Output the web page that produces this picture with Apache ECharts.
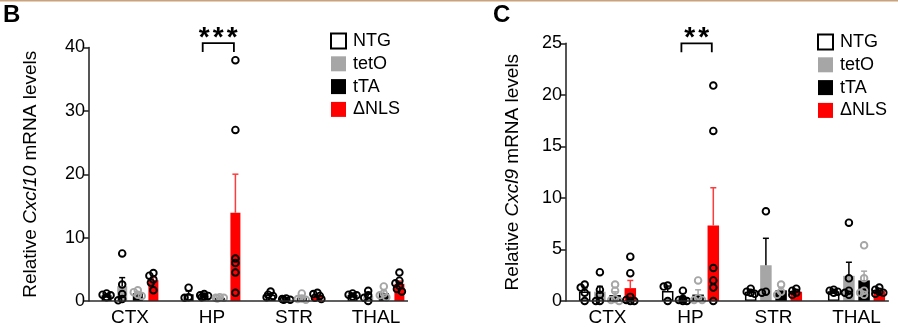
<!DOCTYPE html>
<html>
<head>
<meta charset="utf-8">
<script src="https://cdn.jsdelivr.net/npm/echarts@6/dist/echarts.min.js"></script>
<style>
  html, body { margin: 0; padding: 0; background: #fff; }
  #chart { width: 898px; height: 332px; }
</style>
</head>
<body>
<div id="chart"></div>
<script>
// Brain regions on the x axis and genotype groups (legend order)
const regions = ['CTX', 'HP', 'STR', 'THAL'];
const genotypes = ['NTG', 'tetO', 'tTA', 'ΔNLS'];

// Cxcl10 relative mRNA, individual animals; one inner list per region (CTX, HP, STR, THAL)
const cxcl10_NTG  = [[1.2, 1.0, 0.6, 0.9], [2.1, 0.6, 0.5], [1.5, 1.0, 0.6, 0.8], [1.2, 1.0, 0.7, 0.9]];
const cxcl10_tetO = [[7.5, 2.6, 1.1, 0.3, 0.1], [1.1, 0.9, 0.7, 0.6, 0.8], [0.4, 0.3, 0.2, 0.2], [1.6, 0.9, 0.5, 0.0]];
const cxcl10_tTA  = [[1.7, 1.4, 1.0, 0.8], [0.6, 0.5, 0.4, 0.5], [1.2, 0.4, 0.2, 0.3], [2.3, 1.2, 0.9, 0.6]];
const cxcl10_dNLS = [[4.4, 4.0, 3.4, 2.9, 1.7], [38.0, 27.0, 6.7, 6.0, 4.5, 1.3], [1.3, 1.1, 0.8, 0.5, 0.3], [4.5, 3.2, 2.8, 2.4, 1.9, 1.5]];

// Cxcl9 relative mRNA, individual animals
const cxcl9_NTG  = [[1.6, 1.3, 0.0, 0.8], [1.5, 1.4, 0.0], [1.2, 0.8, 0.7, 0.9], [1.1, 1.0, 0.9, 0.8]];
const cxcl9_tetO = [[2.8, 1.1, 0.6, 0.0, 0.0], [1.0, 0.2, 0.1, 0.0, 0.0], [8.7, 0.9, 0.8], [7.6, 2.2, 1.0, 0.8, 0.6]];
const cxcl9_tTA  = [[1.6, 1.0, 0.2, 0.0, 0.1], [2.0, 0.3, 0.1, 0.1], [1.6, 0.9, 0.6], [5.4, 2.2, 1.0, 0.8, 0.6]];
const cxcl9_dNLS = [[4.3, 2.7, 0.4, 0.1, 0.0, 0.0], [20.9, 16.5, 3.2, 2.0, 1.3, 0.0], [1.2, 1.0, 0.8, 0.6], [1.3, 1.1, 0.9, 0.7, 0.8]];

// Axis ticks
const cxcl10Ticks = [0, 10, 20, 30, 40];
const cxcl9Ticks = [0, 5, 10, 15, 20, 25];

// Significance marks: region, compared groups, label
const cxcl10Sig = { region: 'HP', from: 'tetO', to: 'ΔNLS', label: '***' };
const cxcl9Sig = { region: 'HP', from: 'tetO', to: 'ΔNLS', label: '**' };

// ---- styling ----
const AXIS = '#2b2b2b';
const GRAY = '#a6a6a6';
const RED = '#ff0000';
const FONT = 'Liberation Sans, Arial, sans-serif';

const barFill   = ['#ffffff', GRAY, '#000000', RED];
const barBorder = ['#000000', GRAY, '#000000', RED];
const dotColor  = ['#000000', '#000000', GRAY, '#000000'];
const errColor  = ['#000000', '#000000', GRAY, '#ff3b3b'];

const mean = a => a.reduce((s, v) => s + v, 0) / a.length;
const sem = a => {
  const m = mean(a);
  const sd = Math.sqrt(a.reduce((s, v) => s + (v - m) * (v - m), 0) / (a.length - 1));
  return sd / Math.sqrt(a.length);
};

const panels = [
  {
    data: [cxcl10_NTG, cxcl10_tetO, cxcl10_tTA, cxcl10_dNLS],
    ticks: cxcl10Ticks, sig: cxcl10Sig, sigLevel: 40.7,
    grid: { left: 89, top: 47.5, width: 328, height: 253.5 },
    barWidth: 10, spacing: 15.6, nameGap: 49, gene: 'Cxcl10',
    legend: { left: 325, top: 27 }
  },
  {
    data: [cxcl9_NTG, cxcl9_tetO, cxcl9_tTA, cxcl9_dNLS],
    ticks: cxcl9Ticks, sig: cxcl9Sig, sigLevel: 25.0,
    grid: { left: 566, top: 43.3, width: 336, height: 257.7 },
    barWidth: 11.5, spacing: 15.2, nameGap: 44, gene: 'Cxcl9',
    legend: { left: 812, top: 28 }
  }
];

const grids = [], xAxes = [], yAxes = [], series = [], legends = [];

panels.forEach((p, pi) => {
  grids.push(Object.assign({ containLabel: false }, p.grid));
  xAxes.push({
    type: 'category', gridIndex: pi, data: regions,
    axisLine: { show: false }, axisTick: { show: false },
    axisLabel: { color: '#000', fontSize: 19, fontFamily: FONT, margin: 7 },
    splitLine: { show: false }
  });
  const tmax = p.ticks[p.ticks.length - 1];
  yAxes.push({
    type: 'value', gridIndex: pi, min: p.ticks[0], max: tmax,
    interval: p.ticks[1] - p.ticks[0],
    axisLine: { show: true, lineStyle: { color: AXIS, width: 1.6 } },
    axisTick: { show: true, length: 5, lineStyle: { color: AXIS, width: 1.6 } },
    axisLabel: { color: '#000', fontSize: 18, fontFamily: FONT, margin: 4 },
    splitLine: { show: false },
    name: '{n|Relative }{i|' + p.gene + '}{n| mRNA levels}',
    nameLocation: 'middle', nameGap: p.nameGap, nameRotate: 90,
    nameTextStyle: {
      rich: {
        n: { fontSize: 19, fontFamily: FONT, color: '#000' },
        i: { fontSize: 19, fontFamily: FONT, color: '#000', fontStyle: 'italic' }
      }
    }
  });

  const gapPct = ((p.spacing - p.barWidth) / p.barWidth * 100).toFixed(1) + '%';

  // bars (group means)
  genotypes.forEach((g, gi) => {
    series.push({
      type: 'bar', name: g, xAxisIndex: pi, yAxisIndex: pi,
      barWidth: p.barWidth, barGap: gapPct,
      data: p.data[gi].map(mean),
      itemStyle: { color: barFill[gi], borderColor: barBorder[gi], borderWidth: gi === 0 ? 1.5 : 0 },
      emphasis: { disabled: true }, animation: false, z: 2
    });
  });

  // error bars (mean + SEM, upper only)
  genotypes.forEach((g, gi) => {
    series.push({
      type: 'custom', name: g + ' SEM', xAxisIndex: pi, yAxisIndex: pi,
      data: p.data[gi].map((vals, ri) => [ri, mean(vals), sem(vals)]),
      encode: { x: 0, y: 1 },
      animation: false, z: 3, silent: true,
      renderItem: (params, api) => {
        const ri = api.value(0);
        const cx = api.coord([ri, 0])[0] + (gi - 1.5) * p.spacing;
        const y0 = api.coord([ri, api.value(1)])[1];
        const y1 = api.coord([ri, api.value(1) + api.value(2)])[1];
        const st = { stroke: errColor[gi], lineWidth: 1.5 };
        return {
          type: 'group', children: [
            { type: 'line', shape: { x1: cx, y1: y0, x2: cx, y2: y1 }, style: st },
            { type: 'line', shape: { x1: cx - 3, y1: y1, x2: cx + 3, y2: y1 }, style: st }
          ]
        };
      }
    });
  });

  // individual animals as open circles, nudged sideways where they overlap
  genotypes.forEach((g, gi) => {
    series.push({
      type: 'custom', name: g + ' points', xAxisIndex: pi, yAxisIndex: pi,
      data: p.data[gi].map((vals, ri) => [ri, Math.max.apply(null, vals)]),
      encode: { x: 0, y: 1 },
      animation: false, z: 4, silent: true,
      renderItem: (params, api) => {
        const ri = api.value(0);
        const cx = api.coord([ri, 0])[0] + (gi - 1.5) * p.spacing;
        const ys = p.data[gi][ri].map(v => api.coord([ri, v])[1]).sort((a, b) => a - b);
        const placed = [];
        const cands = [0, -2.5, 2.5, -4, 4];
        const children = [];
        ys.forEach(py => {
          let best = 0, bestD = -1;
          for (const c of cands) {
            const d = placed.length ? Math.min.apply(null, placed.map(q => Math.hypot(q[0] - c, q[1] - py))) : 99;
            if (d >= 4) { best = c; bestD = d; break; }
            if (d > bestD) { bestD = d; best = c; }
          }
          placed.push([best, py]);
          children.push({
            type: 'circle', shape: { cx: cx + best, cy: py, r: 3.3 },
            style: { fill: 'none', stroke: dotColor[gi], lineWidth: 1.9 }
          });
        });
        return { type: 'group', children };
      }
    });
  });

  // x baseline and significance bracket
  series.push({
    type: 'custom', name: 'frame' + pi, xAxisIndex: pi, yAxisIndex: pi,
    data: [[regions.indexOf(p.sig.region), p.sigLevel]],
    encode: { x: 0, y: 1 },
    animation: false, z: 5, silent: true, clip: false,
    renderItem: (params, api) => {
      const cs = params.coordSys;
      const ri = api.value(0);
      const c = api.coord([ri, api.value(1)]);
      const base = api.coord([0, 0])[1];
      const xa = c[0] + (genotypes.indexOf(p.sig.from) - 1.5) * p.spacing - 1.5;
      const xb = c[0] + (genotypes.indexOf(p.sig.to) - 1.5) * p.spacing - 1.5;
      const yt = c[1];
      const st = { stroke: '#000', lineWidth: 1.8, fill: 'none' };
      const children = [
        { type: 'line', shape: { x1: cs.x, y1: base, x2: cs.x + cs.width * 0.9725, y2: base },
          style: { stroke: AXIS, lineWidth: 1.6 } },
        { type: 'polyline', shape: { points: [[xa, yt + 9], [xa, yt], [xb, yt], [xb, yt + 9]] }, style: st }
      ];
      const n = p.sig.label.length;
      const mid = (xa + xb) / 2;
      for (let k = 0; k < n; k++) {
        children.push({
          type: 'text',
          style: {
            text: '*', x: mid + (k - (n - 1) / 2) * 14, y: yt - 5,
            fill: '#000', font: 'bold 28px ' + FONT, align: 'center', verticalAlign: 'middle'
          }
        });
      }
      return { type: 'group', children };
    }
  });

  legends.push({
    orient: 'vertical', left: p.legend.left, top: p.legend.top,
    data: genotypes, itemWidth: 15, itemHeight: 15, itemGap: 4.8,
    icon: 'rect', selectedMode: false,
    textStyle: { color: '#000', fontSize: 18, fontFamily: FONT, padding: [0, 0, 0, 2] }
  });
});

const chart = echarts.init(document.getElementById('chart'), null, { renderer: 'canvas' });
chart.setOption({
  backgroundColor: '#fff',
  animation: false,
  grid: grids, xAxis: xAxes, yAxis: yAxes, series: series, legend: legends,
  graphic: [
    { type: 'line', shape: { x1: 0, y1: 0.5, x2: 898, y2: 0.5 }, style: { stroke: '#c9a27e', lineWidth: 2 } },
    { type: 'text', left: 3, top: 3, style: { text: 'B', font: 'bold 24px ' + FONT, fill: '#000' } },
    { type: 'text', left: 493, top: 3, style: { text: 'C', font: 'bold 24px ' + FONT, fill: '#000' } }
  ]
});
</script>
</body>
</html>
